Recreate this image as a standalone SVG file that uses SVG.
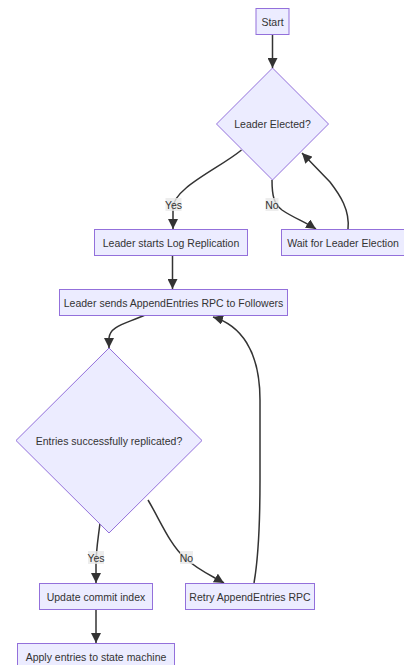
<svg xmlns="http://www.w3.org/2000/svg" width="404" height="665" viewBox="0 0 404 665">
  <style>
    .node rect, .node polygon { fill: #ECECFF; stroke: #9370DB; stroke-width: 1; }
    .node text { font-family: "Liberation Sans", Arial, sans-serif; font-size: 10.5px; fill: #333333; text-anchor: middle; dominant-baseline: central; }
    .edge { fill: none; stroke: #333333; stroke-width: 1.5; marker-end: url(#arrow); }
    .lbl rect { fill: #e8e8e8; opacity: 0.8; }
    .lbl text { font-family: "Liberation Sans", Arial, sans-serif; font-size: 10.5px; fill: #333333; text-anchor: middle; dominant-baseline: central; }
  </style>
  <defs>
    <marker id="arrow" viewBox="0 0 10 10" refX="10" refY="5" markerUnits="userSpaceOnUse" markerWidth="10" markerHeight="10" orient="auto">
      <path d="M0,0 L10,5 L0,10 z" fill="#333333"/>
    </marker>
  </defs>

  <g id="connectors">
    <path class="edge" d="M272.5,35 L272.5,68"/>
    <path class="edge" d="M241.5,150 C220,168 173,188 173,208 L173,229"/>
    <path class="edge" d="M272,180 C272,196 274,204 282,210 C292,217 305,222 316,229"/>
    <path class="edge" d="M348,229 C350,210 340,195 330,182 L302,153"/>
    <path class="edge" d="M172.5,256 L172.5,289"/>
    <path class="edge" d="M145,315 C125,324 110,326 109,338 L109,348"/>
    <path class="edge" d="M254,583 C258,560 260,530 260,480 L260,400 C260,350 240,325 213,317"/>
    <path class="edge" d="M100,523 C98,540 96,550 96,565 L96,583"/>
    <path class="edge" d="M148,500 C160,520 170,545 185,558 C198,570 212,576 224,583"/>
    <path class="edge" d="M96,609 L96,643"/>
  </g>

  <g id="edge-labels">
    <g class="lbl"><rect x="165.5" y="198" width="16" height="13"/><text x="173.5" y="204.5">Yes</text></g>
    <g class="lbl"><rect x="265.5" y="198" width="13" height="13"/><text x="272" y="204.5">No</text></g>
    <g class="lbl"><rect x="88" y="551" width="16" height="13"/><text x="96" y="557.5">Yes</text></g>
    <g class="lbl"><rect x="180" y="551" width="13" height="13"/><text x="186.5" y="557.5">No</text></g>
  </g>

  <g id="start" class="node">
    <rect x="256" y="8.5" width="33" height="26"/>
    <text x="272.5" y="21.5">Start</text>
  </g>
  <g id="leader-elected" class="node">
    <polygon points="272.5,68 328.5,124 272.5,180 216.5,124"/>
    <text x="272.5" y="124">Leader Elected?</text>
  </g>
  <g id="log-replication" class="node">
    <rect x="94.5" y="229.5" width="153" height="26"/>
    <text x="171" y="242.5">Leader starts Log Replication</text>
  </g>
  <g id="wait-election" class="node">
    <rect x="281.5" y="229.5" width="128" height="26"/>
    <text x="343" y="242.5">Wait for Leader Election</text>
  </g>
  <g id="send-append" class="node">
    <rect x="59.5" y="289.5" width="228" height="26"/>
    <text x="173.5" y="302.5">Leader sends AppendEntries RPC to Followers</text>
  </g>
  <g id="replicated" class="node">
    <polygon points="109,348 202,440.5 109,533 16,440.5"/>
    <text x="109" y="440.5">Entries successfully replicated?</text>
  </g>
  <g id="update-commit" class="node">
    <rect x="39.5" y="583.5" width="113" height="26"/>
    <text x="96" y="596.5">Update commit index</text>
  </g>
  <g id="retry-append" class="node">
    <rect x="185.5" y="583.5" width="129" height="26"/>
    <text x="250" y="596.5">Retry AppendEntries RPC</text>
  </g>
  <g id="apply-entries" class="node">
    <rect x="17.5" y="643.5" width="157" height="26"/>
    <text x="96" y="656.5">Apply entries to state machine</text>
  </g>
</svg>
